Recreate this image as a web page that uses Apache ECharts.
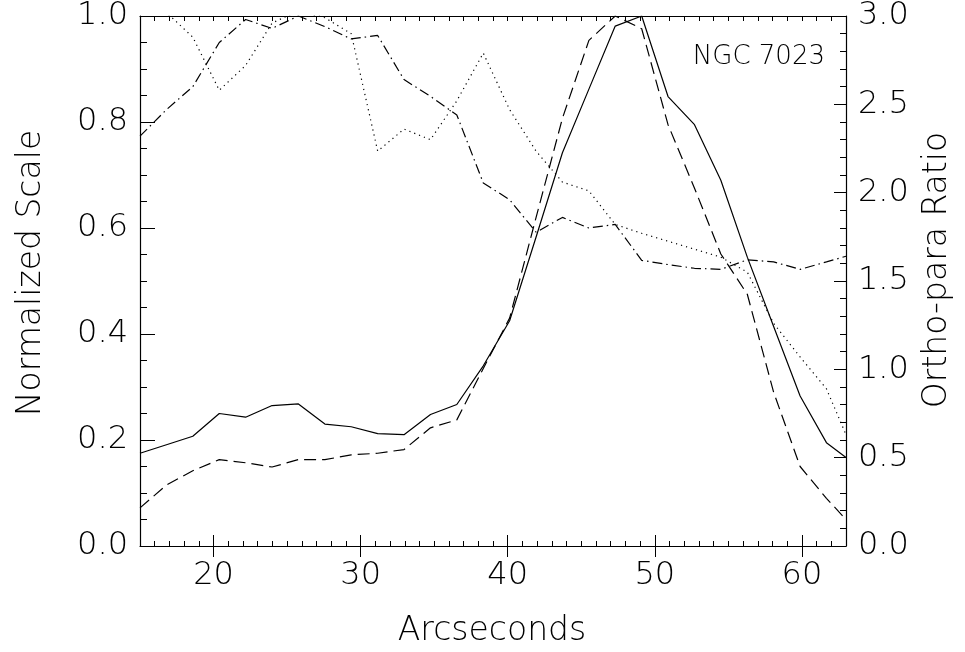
<!DOCTYPE html>
<html>
<head>
<meta charset="utf-8">
<script src="https://cdn.jsdelivr.net/npm/echarts@6/dist/echarts.min.js"></script>
<style>
  html, body { margin: 0; padding: 0; background: #ffffff; }
  #chart { width: 965px; height: 652px; }
</style>
</head>
<body>
<div id="chart"></div>
<script>
// Slit positions along the cut (arcseconds)
const arcsec = [15.00, 16.80, 18.59, 20.39, 22.18, 23.98, 25.77, 27.57, 29.36, 31.16,
  32.95, 34.75, 36.54, 38.34, 40.13, 41.93, 43.72, 45.52, 47.31, 49.11,
  50.90, 52.70, 54.49, 56.29, 58.08, 59.88, 61.67, 63.00];

// Normalized line intensities (left axis)
const solidScale = [0.175, 0.191, 0.207, 0.250, 0.243, 0.265, 0.268, 0.230, 0.225, 0.212,
  0.210, 0.248, 0.267, 0.340, 0.425, 0.583, 0.742, 0.862, 0.981, 1.000,
  0.848, 0.795, 0.690, 0.545, 0.414, 0.283, 0.195, 0.167];
const dashedScale = [0.072, 0.115, 0.142, 0.163, 0.157, 0.149, 0.163, 0.163, 0.172, 0.175,
  0.182, 0.223, 0.238, 0.335, 0.430, 0.620, 0.807, 0.954, 1.000, 0.976,
  0.795, 0.675, 0.551, 0.475, 0.290, 0.150, 0.090, 0.050];

// Ortho-para ratios (right axis)
const dottedRatio = [3.18, 3.02, 2.88, 2.58, 2.72, 2.96, 3.03, 2.99, 2.90, 2.235,
  2.36, 2.30, 2.52, 2.79, 2.47, 2.235, 2.06, 2.01, 1.82, 1.77,
  1.725, 1.68, 1.635, 1.55, 1.26, 1.07, 0.89, 0.63];
const dashDotRatio = [2.32, 2.47, 2.60, 2.85, 2.98, 2.93, 3.00, 2.94, 2.87, 2.89,
  2.64, 2.545, 2.44, 2.055, 1.96, 1.776, 1.86, 1.80, 1.82, 1.617,
  1.593, 1.572, 1.566, 1.62, 1.608, 1.566, 1.608, 1.64];

// Labelled ticks on the arcsecond axis
const majorX = [20, 30, 40, 50, 60];

const FONT = 'DejaVu Sans';
const INK = '#000000';
const textStyle = { fontFamily: FONT, fontWeight: 200, fontSize: 32, color: INK };

function pairs(xs, ys) { return xs.map((x, i) => [x, ys[i]]); }

const chart = echarts.init(document.getElementById('chart'), null, { renderer: 'canvas' });

const axisLine = { show: true, onZero: false, lineStyle: { color: INK, width: 1.2 } };
const noLine = { show: false };

// Arcsecond axes: short ticks every arcsecond, long ticks at the labelled values,
// mirrored along the top of the frame.
function xAxisBase(position, showLabels, major) {
  const ax = {
    type: 'value', position: position, offset: 0, min: 15, max: 63,
    axisLine: major ? noLine : axisLine, splitLine: { show: false },
    axisTick: { show: true, inside: true, length: major ? 11 : 5, lineStyle: { color: INK, width: 1 } },
    axisLabel: { show: false }
  };
  if (major) {
    ax.axisTick.customValues = majorX;
    if (showLabels) {
      ax.axisLabel = Object.assign({ show: true, margin: 14, customValues: majorX }, textStyle);
    }
  } else {
    ax.interval = 1;
  }
  return ax;
}

// Vertical axes: a labelled axis plus an unlabelled one carrying the short ticks.
function yAxisBase(position, max, interval, tickLen, showLabels, withLine) {
  return {
    type: 'value', position: position, offset: 0, min: 0, max: max, interval: interval,
    axisLine: withLine ? axisLine : noLine, splitLine: { show: false },
    axisTick: { show: true, inside: true, length: tickLen, lineStyle: { color: INK, width: 1 } },
    axisLabel: showLabels
      ? Object.assign({ margin: 12, formatter: v => v.toFixed(1) }, textStyle)
      : { show: false }
  };
}

const option = {
  backgroundColor: '#ffffff',
  animation: false,
  grid: { left: 140, right: 119, top: 12, bottom: 106, containLabel: false },
  xAxis: [
    xAxisBase('bottom', false, false),
    xAxisBase('bottom', true, true),
    xAxisBase('top', false, false),
    xAxisBase('top', false, true)
  ],
  yAxis: [
    yAxisBase('left', 1, 0.2, 15, true, true),
    yAxisBase('right', 3, 0.5, 12, true, true),
    yAxisBase('left', 1, 0.05, 7, false, false),
    yAxisBase('right', 3, 0.1, 6, false, false)
  ],
  graphic: [
    { type: 'text', x: 492, y: 631, style: Object.assign({ text: 'Arcseconds', align: 'center', verticalAlign: 'middle' }, textStyle, { fontSize: 33, fill: INK }) },
    { type: 'text', x: 31, y: 273, rotation: Math.PI / 2, style: Object.assign({ text: 'Normalized Scale', align: 'center', verticalAlign: 'middle' }, textStyle, { fontSize: 33, fill: INK }) },
    { type: 'text', x: 937, y: 270, rotation: Math.PI / 2, style: Object.assign({ text: 'Ortho-para Ratio', align: 'center', verticalAlign: 'middle' }, textStyle, { fontSize: 33, fill: INK }) },
    { type: 'text', x: 825, y: 57, style: Object.assign({ text: 'NGC 7023', align: 'right', verticalAlign: 'middle' }, textStyle, { fontSize: 26, fill: INK }) }
  ],
  series: [
    { type: 'line', xAxisIndex: 0, yAxisIndex: 0, data: pairs(arcsec, solidScale), symbol: 'none', clip: true,
      lineStyle: { color: INK, width: 1.2, type: 'solid' } },
    { type: 'line', xAxisIndex: 0, yAxisIndex: 0, data: pairs(arcsec, dashedScale), symbol: 'none', clip: true,
      lineStyle: { color: INK, width: 1.2, type: [12, 6] } },
    { type: 'line', xAxisIndex: 0, yAxisIndex: 1, data: pairs(arcsec, dottedRatio), symbol: 'none', clip: true,
      lineStyle: { color: INK, width: 1.2, type: [1.2, 4] } },
    { type: 'line', xAxisIndex: 0, yAxisIndex: 1, data: pairs(arcsec, dashDotRatio), symbol: 'none', clip: true,
      lineStyle: { color: INK, width: 1.2, type: [10, 4, 1.5, 4] } }
  ]
};

chart.setOption(option);
</script>
</body>
</html>
